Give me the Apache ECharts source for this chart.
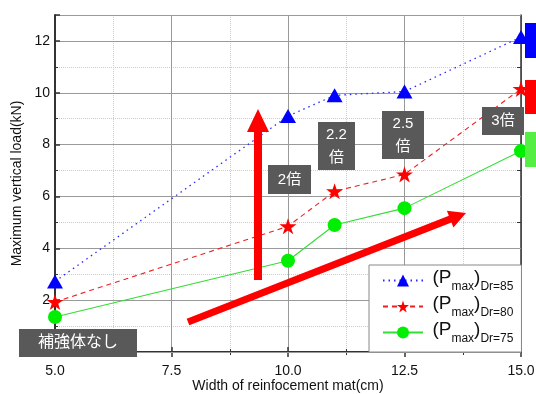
<!DOCTYPE html>
<html>
<head>
<meta charset="utf-8">
<script src="https://cdn.jsdelivr.net/npm/echarts@6/dist/echarts.min.js"></script>
<style>
html,body{margin:0;padding:0;background:#fff;}
#chart{width:536px;height:394px;}
</style>
</head>
<body>
<div id="chart"></div>
<script>
// ---- data ----
const widths = [5, 10, 11, 12.5, 15];               // Width of reinforcement mat (cm)
const dr85 = [2.72, 9.1, 9.9, 10.05, 12.15];        // (P_max) Dr=85
const dr80 = [1.93, 4.85, 6.2, 6.85, 10.15];        // (P_max) Dr=80
const dr75 = [1.35, 3.52, 4.9, 5.55, 7.75];         // (P_max) Dr=75
const seriesNames = ['Dr=85', 'Dr=80', 'Dr=75'];
const ratioLabels = ['2倍', '2.2\n倍', '2.5\n倍', '3倍'];
const baseLabel = '補強体なし';

const FONT = "'Liberation Sans', Arial, 'Noto Sans CJK JP', sans-serif";
const JFONT = "'Liberation Sans', 'Noto Sans CJK JP', sans-serif";
const STAR = 'path://M50,0 L61.2,34.5 L97.6,34.5 L68.2,55.9 L79.4,90.5 L50,69.1 L20.6,90.5 L31.8,55.9 L2.4,34.5 L38.8,34.5 Z';

const chart = echarts.init(document.getElementById('chart'));

function arrowPoints(x1, y1, x2, y2, shaftHalf, headLen, headHalf) {
  const dx = x2 - x1, dy = y2 - y1, L = Math.hypot(dx, dy);
  const ux = dx / L, uy = dy / L, nx = -uy, ny = ux;
  const bx = x2 - ux * headLen, by = y2 - uy * headLen;
  return [
    [x1 + nx * shaftHalf, y1 + ny * shaftHalf],
    [bx + nx * shaftHalf, by + ny * shaftHalf],
    [bx + nx * headHalf, by + ny * headHalf],
    [x2, y2],
    [bx - nx * headHalf, by - ny * headHalf],
    [bx - nx * shaftHalf, by - ny * shaftHalf],
    [x1 - nx * shaftHalf, y1 - ny * shaftHalf]
  ];
}

function box(x, y, w, h, text, fs) {
  return [
    { type: 'rect', z: 100, shape: { x: x, y: y, width: w, height: h }, style: { fill: '#595959' } },
    { type: 'text', z: 110, x: x + w / 2, y: y + h / 2,
      style: { text: text, fill: '#fff', font: fs + 'px ' + JFONT, align: 'center', verticalAlign: 'middle', lineHeight: 23 } }
  ];
}

const axisLineStyle = { color: '#333', width: 1.5 };

const option = {
  animation: false,
  backgroundColor: '#fff',
  grid: { left: 55, right: 15, top: 15, bottom: 42, containLabel: false, outerBoundsMode: 'none' },
  xAxis: [
    {
      type: 'value', position: 'bottom', min: 5, max: 15, interval: 2.5,
      name: 'Width of reinfocement mat(cm)', nameLocation: 'middle', nameGap: 27, nameMoveOverlap: false,
      nameTextStyle: { fontSize: 14, color: '#111', fontFamily: FONT },
      axisLine: { show: true, lineStyle: { color: '#333', width: 2 } },
      axisTick: { show: true, inside: true, length: 5, lineStyle: { color: '#333', width: 1.5 } },
      minorTick: { show: true, splitNumber: 2, length: 3, lineStyle: { color: '#333', width: 1 } },
      axisLabel: { fontSize: 14, color: '#111', fontFamily: FONT, margin: 12, formatter: v => v.toFixed(1) },
      splitLine: { show: true, lineStyle: { color: '#999', width: 1 } },
      minorSplitLine: { show: true, lineStyle: { color: '#ccc', width: 1, type: 'dotted' } }
    },
    {
      type: 'value', position: 'top', min: 5, max: 15, interval: 2.5,
      axisLine: { show: true, lineStyle: axisLineStyle },
      axisTick: { show: true, inside: true, length: 5, lineStyle: { color: '#333', width: 1.5 } },
      minorTick: { show: true, splitNumber: 2, length: 3, lineStyle: { color: '#333', width: 1 } },
      axisLabel: { show: false }, splitLine: { show: false }
    }
  ],
  yAxis: [
    {
      type: 'value', position: 'left', min: 0, max: 13, interval: 2, z: 1,
      name: 'Maximum vertical load(kN)', nameLocation: 'middle', nameGap: 31, nameMoveOverlap: false,
      nameTextStyle: { fontSize: 14, color: '#111', fontFamily: FONT },
      axisLine: { show: true, lineStyle: { color: '#333', width: 2 } },
      axisTick: { show: true, inside: true, length: 5, lineStyle: { color: '#333', width: 1.5 } },
      minorTick: { show: true, splitNumber: 2, length: 3, lineStyle: { color: '#333', width: 1 } },
      axisLabel: { fontSize: 14, color: '#111', fontFamily: FONT, margin: 5, showMinLabel: false, showMaxLabel: false },
      splitLine: { show: true, lineStyle: { color: '#999', width: 1 } }
    },
    {
      type: 'value', position: 'right', min: 0, max: 13, interval: 1, z: 0,
      axisLine: { show: true, lineStyle: axisLineStyle },
      axisTick: { show: true, inside: true, length: 4, lineStyle: { color: '#333', width: 1 } },
      axisLabel: { show: false },
      splitLine: { show: true, lineStyle: { color: '#ccc', width: 1, type: 'dotted' } }
    }
  ],
  legend: {
    left: 369, top: 265, orient: 'vertical',
    itemWidth: 40, itemHeight: 15, itemGap: 1,
    padding: [3, 8, 7, 13],
    backgroundColor: '#fff', borderColor: '#888', borderWidth: 1, borderRadius: 0,
    data: seriesNames,
    formatter: n => '{s|  }{a|(P}{b|max}{a|)}{b|' + n + '}',
    textStyle: {
      color: '#111', fontFamily: FONT,
      rich: {
        s: { fontSize: 8, lineHeight: 25, verticalAlign: 'top' },
        a: { fontSize: 19, fontFamily: FONT, color: '#111', lineHeight: 20, verticalAlign: 'top' },
        b: { fontSize: 12, fontFamily: FONT, color: '#111', lineHeight: 12, verticalAlign: 'bottom' }
      }
    }
  },
  series: [
    {
      name: seriesNames[0], type: 'line', xAxisIndex: 0, yAxisIndex: 0,
      data: widths.map((x, i) => [x, dr85[i]]),
      symbol: 'triangle', symbolSize: [16, 14],
      itemStyle: { color: '#0000ff' },
      lineStyle: { color: '#2a2aff', width: 1.3, type: [1.5, 4] },
      z: 5
    },
    {
      name: seriesNames[1], type: 'line', xAxisIndex: 0, yAxisIndex: 0,
      data: widths.map((x, i) => [x, dr80[i]]),
      symbol: STAR, symbolSize: 17, symbolKeepAspect: true,
      itemStyle: { color: '#ff0000' },
      lineStyle: { color: '#ee2020', width: 1.1, type: [5, 4] },
      z: 5
    },
    {
      name: seriesNames[2], type: 'line', xAxisIndex: 0, yAxisIndex: 0,
      data: widths.map((x, i) => [x, dr75[i]]),
      symbol: 'circle', symbolSize: 14,
      itemStyle: { color: '#00ee00' },
      lineStyle: { color: '#33dd33', width: 1.1, type: 'solid' },
      z: 5
    }
  ],
  graphic: [
    { type: 'polygon', z: 90, shape: { points: arrowPoints(258, 280, 258, 109, 4, 23, 11) }, style: { fill: '#ff0000' } },
    { type: 'polygon', z: 90, shape: { points: arrowPoints(188, 322, 466, 213, 3.6, 17, 9) }, style: { fill: '#ff0000' } },
    ...box(268, 165, 43, 29, ratioLabels[0], 15),
    ...box(318, 122, 37, 48, ratioLabels[1], 15),
    ...box(382, 111, 42, 48, ratioLabels[2], 15),
    ...box(482, 107, 42, 28, ratioLabels[3], 15),
    ...box(19, 329, 118, 28, baseLabel, 16),
    { type: 'rect', z: 100, shape: { x: 525, y: 23, width: 11, height: 35 }, style: { fill: '#0000ff' } },
    { type: 'rect', z: 100, shape: { x: 525, y: 80, width: 11, height: 34 }, style: { fill: '#ff0000' } },
    { type: 'rect', z: 100, shape: { x: 525, y: 132, width: 11, height: 35 }, style: { fill: '#55ee44' } }
  ]
};
chart.setOption(option);
</script>
</body>
</html>
